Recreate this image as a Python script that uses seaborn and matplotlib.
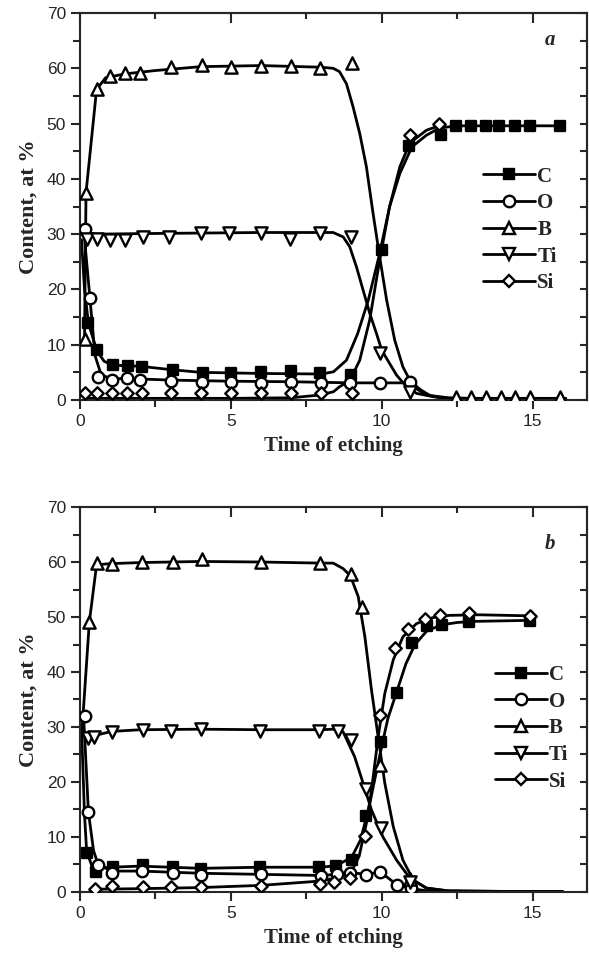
import numpy as np
import matplotlib
matplotlib.use('Agg')
import matplotlib.pyplot as plt
import seaborn as sns
from matplotlib.lines import Line2D
from matplotlib.ticker import MultipleLocator
from matplotlib.font_manager import FontProperties

# ---------------- panel a : measured points ----------------
a_C_t = [0.28, 0.55, 1.08, 1.6, 2.04, 3.09, 4.06, 5.0, 6.0, 7.0, 7.95, 8.97, 10.0, 10.9, 11.95, 12.45, 12.95, 13.45, 13.9, 14.4, 14.9, 15.9]
a_C_v = [13.9, 9.0, 6.3, 6.2, 6.0, 5.5, 4.8, 4.8, 5.0, 5.3, 4.9, 4.5, 27.1, 46.0, 48.0, 49.5, 49.5, 49.5, 49.5, 49.5, 49.5, 49.5]
a_O_t = [0.17, 0.33, 0.6, 1.05, 1.55, 2.0, 3.03, 4.03, 5.02, 6.0, 7.0, 7.98, 8.94, 9.93, 10.93]
a_O_v = [31.0, 18.4, 4.2, 3.6, 3.9, 3.6, 3.4, 3.3, 3.3, 3.0, 3.3, 3.0, 3.0, 3.0, 3.2]
a_B_t = [0.15, 0.2, 0.55, 1.0, 1.5, 2.0, 3.0, 4.05, 5.0, 6.0, 7.0, 7.95, 9.0, 12.45, 12.95, 13.45, 13.95, 14.4, 14.9, 15.9]
a_B_v = [11.0, 37.5, 56.2, 58.6, 59.2, 59.2, 60.3, 60.6, 60.3, 60.5, 60.5, 60.0, 61.0, 0.6, 0.6, 0.5, 0.5, 0.5, 0.5, 0.5]
a_Ti_t = [0.22, 0.55, 1.0, 1.5, 2.1, 2.96, 4.0, 4.95, 6.0, 6.95, 7.95, 8.97, 9.93, 10.93]
a_Ti_v = [29.2, 29.2, 28.9, 29.0, 29.5, 29.5, 30.3, 30.3, 30.3, 29.2, 30.3, 29.5, 8.5, 1.5]
a_Si_t = [0.17, 0.55, 1.05, 1.55, 2.04, 3.0, 4.0, 5.0, 6.0, 7.0, 8.0, 9.0, 10.93, 11.9]
a_Si_v = [1.2, 1.2, 1.2, 1.2, 1.2, 1.2, 1.2, 1.2, 1.2, 1.2, 1.2, 1.2, 47.9, 50.0]

# panel a : fitted curves
a_C_ct = [0.05, 0.15, 0.28, 0.55, 0.8, 1.1, 2.0, 3.0, 4.0, 6.0, 8.0, 8.4, 8.83, 9.2, 9.55, 9.93, 10.26, 10.6, 11.0, 11.48, 11.92, 12.5, 14.0, 16.0]
a_C_cv = [29.0, 20.0, 13.9, 9.0, 7.0, 6.3, 6.1, 5.5, 5.0, 4.8, 4.7, 5.1, 7.2, 12.0, 18.0, 26.5, 35.0, 41.0, 45.8, 47.9, 49.2, 49.6, 49.6, 49.6]
a_O_ct = [0.12, 0.33, 0.5, 0.7, 1.0, 2.0, 3.0, 5.0, 7.0, 9.0, 10.0, 11.0, 11.3, 11.6, 12.0, 12.5]
a_O_cv = [31.0, 18.4, 8.0, 4.6, 3.9, 3.8, 3.6, 3.4, 3.3, 3.1, 3.1, 3.1, 1.8, 0.8, 0.3, 0.2]
a_B_ct = [0.15, 0.2, 0.55, 0.85, 1.5, 2.5, 4.0, 6.0, 8.0, 8.39, 8.6, 8.83, 9.05, 9.27, 9.49, 9.71, 9.93, 10.16, 10.43, 10.7, 11.04, 11.48, 12.2, 13.0, 14.0, 15.0, 16.1]
a_B_cv = [11.0, 37.5, 56.2, 58.3, 59.0, 59.6, 60.3, 60.5, 60.2, 60.0, 59.4, 57.2, 53.0, 48.2, 42.2, 33.8, 25.9, 18.1, 10.8, 6.0, 2.4, 0.9, 0.4, 0.3, 0.3, 0.3, 0.3]
a_Ti_ct = [0.05, 0.5, 2.0, 4.0, 6.0, 8.0, 8.39, 8.72, 8.94, 9.16, 9.38, 9.6, 9.82, 10.0, 10.26, 10.49, 10.82, 11.15, 11.7, 12.25]
a_Ti_cv = [30.0, 30.0, 30.1, 30.2, 30.3, 30.3, 30.3, 29.5, 27.7, 24.1, 19.9, 15.7, 12.1, 9.0, 6.6, 4.5, 2.4, 1.2, 0.6, 0.3]
a_Si_ct = [0.15, 1.0, 3.0, 5.0, 7.0, 7.95, 8.4, 8.6, 8.94, 9.27, 9.6, 9.93, 10.26, 10.6, 10.93, 11.48, 11.9]
a_Si_cv = [0.3, 0.3, 0.3, 0.3, 0.4, 0.9, 1.5, 2.4, 3.5, 7.2, 14.5, 25.3, 35.0, 42.2, 46.5, 48.8, 49.6]

# ---------------- panel b : measured points ----------------
b_C_t = [0.22, 0.53, 1.08, 2.1, 3.07, 4.0, 5.96, 7.93, 8.48, 9.0, 9.47, 9.99, 10.49, 11.01, 11.51, 11.98, 12.9, 14.9]
b_C_v = [7.0, 3.7, 4.6, 4.9, 4.6, 4.2, 4.6, 4.5, 4.7, 5.8, 13.8, 27.3, 36.1, 45.2, 48.4, 48.5, 49.1, 49.3]
b_O_t = [0.17, 0.28, 0.6, 1.05, 2.04, 3.07, 4.0, 6.0, 7.97, 8.5, 8.96, 9.49, 9.93, 10.49, 10.98]
b_O_v = [32.0, 14.5, 4.9, 3.4, 3.9, 3.4, 3.1, 3.2, 2.9, 3.2, 3.5, 3.1, 3.7, 1.3, 0.7]
b_B_t = [0.31, 0.55, 1.05, 2.04, 3.07, 4.03, 6.0, 7.95, 8.97, 9.36, 9.93, 10.95]
b_B_v = [49.1, 59.9, 59.6, 60.0, 60.0, 60.5, 60.0, 59.9, 57.9, 51.9, 23.0, 2.3]
b_Ti_t = [0.27, 0.46, 1.05, 2.1, 3.03, 4.0, 5.96, 7.93, 8.54, 8.97, 9.49, 9.99, 10.95]
b_Ti_v = [28.0, 28.2, 29.0, 29.4, 29.3, 29.6, 29.3, 29.3, 29.2, 27.6, 18.8, 11.6, 1.8]
b_Si_t = [0.5, 1.05, 2.1, 3.03, 4.0, 6.0, 7.95, 8.43, 8.94, 9.44, 9.93, 10.43, 10.87, 11.42, 11.92, 12.9, 14.9]
b_Si_v = [0.5, 1.1, 0.9, 0.9, 0.9, 1.1, 1.4, 1.9, 2.6, 10.2, 32.2, 44.3, 47.9, 49.7, 50.4, 50.8, 50.2]

# panel b : fitted curves
b_C_ct = [0.05, 0.15, 0.22, 0.4, 0.6, 1.0, 2.0, 4.0, 6.0, 8.0, 8.5, 9.0, 9.3, 9.6, 9.9, 10.2, 10.5, 10.8, 11.1, 11.5, 12.0, 12.5, 13.0, 15.0]
b_C_cv = [30.0, 14.0, 7.5, 4.6, 4.3, 4.5, 4.7, 4.3, 4.5, 4.5, 4.8, 6.3, 9.5, 16.0, 24.0, 31.5, 36.5, 41.5, 45.0, 47.5, 48.6, 49.0, 49.2, 49.4]
b_O_ct = [0.12, 0.28, 0.45, 0.6, 1.05, 2.0, 4.0, 6.0, 8.0, 8.5, 9.0, 9.5, 9.93, 10.2, 10.5, 11.0, 11.5, 12.0]
b_O_cv = [32.0, 14.5, 7.5, 5.0, 3.8, 3.8, 3.4, 3.2, 3.0, 3.2, 3.5, 3.2, 3.6, 2.6, 1.3, 0.6, 0.2, 0.1]
b_B_ct = [0.05, 0.31, 0.55, 1.0, 2.0, 4.0, 6.0, 8.0, 8.39, 8.72, 8.96, 9.22, 9.44, 9.66, 9.88, 10.1, 10.38, 10.7, 11.04, 11.48, 12.2, 14.0, 15.9]
b_B_cv = [28.0, 49.1, 59.5, 59.7, 59.9, 60.1, 60.0, 59.8, 59.8, 58.8, 57.5, 53.7, 46.4, 36.7, 28.2, 19.8, 11.9, 5.8, 2.2, 0.7, 0.2, 0.1, 0.1]
b_Ti_ct = [0.05, 0.3, 0.6, 1.05, 2.0, 4.0, 6.0, 8.0, 8.39, 8.72, 9.1, 9.38, 9.66, 10.04, 10.49, 10.93, 11.48, 12.2, 14.0, 16.0]
b_Ti_cv = [29.5, 28.5, 28.6, 29.2, 29.5, 29.6, 29.5, 29.5, 29.6, 29.1, 24.6, 19.8, 14.9, 10.0, 5.8, 2.5, 0.7, 0.2, 0.1, 0.1]
b_Si_ct = [0.5, 2.0, 4.0, 6.0, 8.0, 8.5, 9.0, 9.25, 9.49, 9.66, 9.88, 10.1, 10.38, 10.7, 11.15, 11.7, 12.25, 13.25, 15.0]
b_Si_cv = [0.5, 0.6, 0.8, 1.2, 2.0, 2.6, 3.8, 6.5, 12.5, 18.5, 28.2, 36.1, 42.2, 46.4, 48.8, 49.9, 50.3, 50.4, 50.2]

elements = ['C', 'O', 'B', 'Ti', 'Si']
marker_of = {'C': 's', 'O': 'o', 'B': '^', 'Ti': 'v', 'Si': 'D'}
face_of = {'C': 'black', 'O': 'white', 'B': 'white', 'Ti': 'white', 'Si': 'white'}
size_of = {'C': 42, 'O': 68, 'B': 78, 'Ti': 78, 'Si': 40}

panels = {
    'a': {
        'points': {'C': (a_C_t, a_C_v), 'O': (a_O_t, a_O_v), 'B': (a_B_t, a_B_v), 'Ti': (a_Ti_t, a_Ti_v), 'Si': (a_Si_t, a_Si_v)},
        'curves': {'C': (a_C_ct, a_C_cv), 'O': (a_O_ct, a_O_cv), 'B': (a_B_ct, a_B_cv), 'Ti': (a_Ti_ct, a_Ti_cv), 'Si': (a_Si_ct, a_Si_cv)},
    },
    'b': {
        'points': {'C': (b_C_t, b_C_v), 'O': (b_O_t, b_O_v), 'B': (b_B_t, b_B_v), 'Ti': (b_Ti_t, b_Ti_v), 'Si': (b_Si_t, b_Si_v)},
        'curves': {'C': (b_C_ct, b_C_cv), 'O': (b_O_ct, b_O_cv), 'B': (b_B_ct, b_B_cv), 'Ti': (b_Ti_ct, b_Ti_cv), 'Si': (b_Si_ct, b_Si_cv)},
    },
}

sns.set_style('ticks')
plt.rcParams['font.family'] = ['Liberation Sans', 'DejaVu Sans']
plt.rcParams['axes.linewidth'] = 1.5

serif = 'Liberation Serif'
leg_font = FontProperties(family=serif, weight='bold', size=15)

fig = plt.figure(figsize=(5.89, 9.59), dpi=100)
ax_pos = {'a': [0.1358, 0.5829, 0.8608, 0.4035], 'b': [0.1358, 0.0699, 0.8608, 0.4014]}
leg_anchor = {'a': (0.795, 0.603), 'b': (0.818, 0.59)}
letter_y = {'a': 0.93, 'b': 0.905}

for name in ['a', 'b']:
    ax = fig.add_axes(ax_pos[name])
    d = panels[name]
    for el in elements:
        ct, cv = d['curves'][el]
        sns.lineplot(x=ct, y=cv, ax=ax, color='black', linewidth=2.0,
                     sort=False, estimator=None, zorder=2)
    for el in elements:
        pt, pv = d['points'][el]
        sns.scatterplot(x=pt, y=pv, ax=ax, marker=marker_of[el], s=size_of[el],
                        color=face_of[el], edgecolor='black', linewidth=1.7,
                        zorder=3, legend=False)

    ax.set_xlim(0, 16.8)
    ax.set_ylim(0, 70)
    ax.xaxis.set_major_locator(MultipleLocator(5))
    ax.xaxis.set_minor_locator(MultipleLocator(2.5))
    ax.yaxis.set_major_locator(MultipleLocator(10))
    ax.yaxis.set_minor_locator(MultipleLocator(5))
    ax.tick_params(which='major', direction='out', length=6.5, width=1.5, labelsize=12.5, pad=3.5)
    ax.tick_params(which='minor', direction='out', length=5, width=1.5)

    top = ax.secondary_xaxis('top')
    top.xaxis.set_major_locator(MultipleLocator(5))
    top.xaxis.set_minor_locator(MultipleLocator(2.5))
    top.tick_params(which='major', direction='in', length=7, width=1.5, labeltop=False)
    top.tick_params(which='minor', direction='in', length=4, width=1.5)
    right = ax.secondary_yaxis('right')
    right.yaxis.set_major_locator(MultipleLocator(5))
    right.tick_params(which='major', direction='in', length=5, width=1.5, labelright=False)

    ax.set_xlabel('Time of etching', family=serif, fontweight='bold', fontsize=15, labelpad=5)
    ax.set_ylabel('Content, at %', family=serif, fontweight='bold', fontsize=16, labelpad=6)

    ax.text(0.927, letter_y[name], name, transform=ax.transAxes, family=serif,
            fontstyle='italic', fontweight='bold', fontsize=15, ha='center', va='center')

    handles = []
    for el in elements:
        handles.append(Line2D([0], [0], color='black', linewidth=2.0, marker=marker_of[el],
                              markersize=np.sqrt(size_of[el]), markerfacecolor=face_of[el],
                              markeredgecolor='black', markeredgewidth=1.7))
    ax.legend(handles, elements, loc='upper left', bbox_to_anchor=leg_anchor[name],
              frameon=False, prop=leg_font, handlelength=2.5, handletextpad=0.1,
              labelspacing=0.32, borderpad=0, borderaxespad=0)

fig.savefig('out.png', dpi=100)
